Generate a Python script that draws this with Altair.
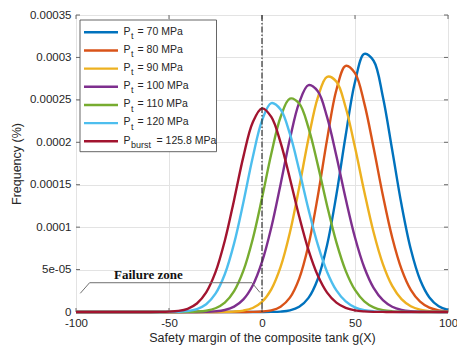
import altair as alt
import pandas as pd

# ---------------- data (frequency values in units of 1e-5) ----------------
X_GRID = list(range(-100, 105, 5))

SERIES_KEYS = ["70", "80", "90", "100", "110", "120", "burst"]
COLORS = ["#0072BD", "#D95319", "#EDB120", "#7E2F8E", "#77AC30", "#4DBEEE", "#A2142F"]

PT70 = [0] * 20 + [0, 0.01, 0.05, 0.19, 0.61, 1.66, 3.89, 7.90, 13.81, 20.83, 27.11,
                   30.42, 29.61, 25.34, 19.09, 12.66, 7.39, 3.80, 1.72, 0.68, 0.24]
PT80 = [0] * 19 + [0.01, 0.06, 0.20, 0.63, 1.69, 3.94, 7.89, 13.64, 20.34, 26.16, 29.01,
                   28.15, 24.59, 19.35, 13.73, 8.78, 5.06, 2.62, 1.23, 0.52, 0.20, 0.07]
PT90 = [0] * 16 + [0.01, 0.05, 0.17, 0.47, 1.19, 2.67, 5.31, 9.37, 14.69, 20.44, 25.27,
                   27.72, 27.15, 24.10, 19.41, 14.17, 9.39, 5.64, 3.07, 1.52, 0.68, 0.28,
                   0.10, 0.03, 0.01]
PT100 = [0] * 14 + [0.02, 0.08, 0.24, 0.63, 1.48, 3.12, 5.90, 9.96, 15.06, 20.38, 24.67,
                    26.73, 26.01, 22.96, 18.38, 13.34, 8.78, 5.24, 2.84, 1.39, 0.62, 0.25,
                    0.09, 0.03, 0.01, 0, 0]
PT110 = [0] * 12 + [0.01, 0.05, 0.15, 0.44, 1.10, 2.46, 4.87, 8.58, 13.43, 18.64, 22.98,
                    25.15, 24.57, 21.70, 17.34, 12.53, 8.20, 4.85, 2.60, 1.26, 0.55, 0.22,
                    0.08, 0.03, 0.01, 0, 0, 0, 0]
PT120 = [0] * 10 + [0.01, 0.03, 0.11, 0.35, 0.92, 2.16, 4.45, 8.09, 12.94, 18.21, 22.56,
                    24.61, 23.86, 20.98, 16.72, 12.09, 7.93, 4.72, 2.54, 1.25, 0.55, 0.22,
                    0.08, 0.03, 0.01, 0, 0, 0, 0, 0, 0]
PBURST = [0] * 9 + [0.01, 0.04, 0.13, 0.38, 1.00, 2.31, 4.69, 8.39, 13.21, 18.31, 22.34,
                    24.00, 22.99, 19.97, 15.74, 11.25, 7.29, 4.29, 2.28, 1.10, 0.48, 0.19,
                    0.07, 0.02, 0.01, 0, 0, 0, 0, 0, 0, 0]
SERIES_VALUES = [PT70, PT80, PT90, PT100, PT110, PT120, PBURST]

X_TICKS = [-100, -50, 0, 50, 100]
Y_TICKS = [0, 0.00005, 0.0001, 0.00015, 0.0002, 0.00025, 0.0003, 0.00035]
Y_TICK_LABELS = ["0", "5e-05", "0.0001", "0.00015", "0.0002", "0.00025", "0.0003", "0.00035"]

LEG_SUB = ["t", "t", "t", "t", "t", "t", "burst"]
LEG_REST = ["= 70 MPa", "= 80 MPa", "= 90 MPa", "= 100 MPa", "= 110 MPa", "= 120 MPa",
            "= 125.8 MPa"]

# failure-zone annotation (data units)
FZ_X = [-97.7, -92.7, -5.4, -1.1]
FZ_Y = [2.2e-5, 3.45e-5, 3.45e-5, 2.3e-5]
FZ_TEXT = "Failure zone"
FZ_TEXT_POS = (-61.1, 3.83e-5)

# ---------------- chart ----------------
W, H = 372, 297
TXT = "#262626"
FONT = "Liberation Sans"
TICK_LEN = 4

x_scale = alt.Scale(domain=[-100, 100], nice=False, zero=False)
y_scale = alt.Scale(domain=[0, 0.00035], nice=False)

label_expr = "".join(
    f"abs(datum.value - {v}) < 1e-9 ? '{lab}' : " for v, lab in zip(Y_TICKS, Y_TICK_LABELS)
) + "''"

x_axis = alt.Axis(values=X_TICKS, title="Safety margin of the composite tank g(X)",
                  labelExpr="'' + datum.value",
                  grid=True, ticks=False, domain=False, labelPadding=5, labelFlush=False,
                  titlePadding=3, labelFontSize=11.5, titleFontSize=12.5)
y_axis = alt.Axis(values=Y_TICKS, labelExpr=label_expr, title="Frequency (%)",
                  grid=True, ticks=False, domain=False, labelPadding=5, labelFlush=False,
                  titlePadding=6, labelFontSize=11.5, titleFontSize=12.5)


def X(field):
    return alt.X(field, scale=x_scale, axis=x_axis)


def Y(field):
    return alt.Y(field, scale=y_scale, axis=y_axis)


layers = []
for key, vals, col in zip(SERIES_KEYS, SERIES_VALUES, COLORS):
    df = pd.DataFrame({"x": X_GRID, "y": [v * 1e-5 for v in vals]})
    layers.append(
        alt.Chart(df).mark_line(color=col, strokeWidth=2.4, interpolate="catmull-rom")
        .encode(x=X("x:Q"), y=Y("y:Q"))
    )

# inward ticks on all four sides (MATLAB style)
xt_df = pd.DataFrame({"x": X_TICKS})
yt_df = pd.DataFrame({"y": Y_TICKS})
tick_style = dict(color="#6a6a6a", strokeWidth=1)
ticks = [
    alt.Chart(xt_df).mark_rule(**tick_style).encode(
        x=X("x:Q"), y=alt.value(0), y2=alt.value(TICK_LEN)),
    alt.Chart(xt_df).mark_rule(**tick_style).encode(
        x=X("x:Q"), y=alt.value(H), y2=alt.value(H - TICK_LEN)),
    alt.Chart(yt_df).mark_rule(**tick_style).encode(
        y=Y("y:Q"), x=alt.value(0), x2=alt.value(TICK_LEN)),
    alt.Chart(yt_df).mark_rule(**tick_style).encode(
        y=Y("y:Q"), x=alt.value(W), x2=alt.value(W - TICK_LEN)),
]

rule = alt.Chart(pd.DataFrame({"x": [0]})).mark_rule(
    color="#333333", strokeWidth=1.2, strokeDash=[6, 2, 1.5, 2]
).encode(x=X("x:Q"))

fz_df = pd.DataFrame({"x": FZ_X, "y": FZ_Y, "o": list(range(len(FZ_X)))})
fz_line = alt.Chart(fz_df).mark_line(color="#707070", strokeWidth=1).encode(
    x=X("x:Q"), y=Y("y:Q"), order="o:Q"
)
fz_text = alt.Chart(pd.DataFrame({"x": [FZ_TEXT_POS[0]], "y": [FZ_TEXT_POS[1]],
                                  "t": [FZ_TEXT]})).mark_text(
    font="Liberation Serif", fontWeight="bold", fontSize=13, color="#111111",
    align="center", baseline="alphabetic"
).encode(x=X("x:Q"), y=Y("y:Q"), text="t:N")

# ---------------- legend (pixel layout, relative to plot area) ----------------
LX0, LX1, LY0, LY1 = 4, 140.5, 5, 136.7
row_y = [17.3 + 18.17 * i for i in range(len(SERIES_KEYS))]
leg_df = pd.DataFrame({
    "key": SERIES_KEYS,
    "ly": row_y,
    "lb": [y + 2.2 for y in row_y],
    "sb": [y + 6.6 for y in row_y],
    "lx1": [8] * 7, "lx2": [42] * 7,
    "px": [47.5] * 7, "sx": [55] * 7,
    "rx": [61.5] * 6 + [80.5],
    "P": ["P"] * 7, "sub": LEG_SUB, "rest": LEG_REST,
})
box = alt.Chart(pd.DataFrame({"x": [LX0], "x2": [LX1], "y": [LY0], "y2": [LY1]})).mark_rect(
    fill="white", stroke="#555555", strokeWidth=0.9
).encode(x=alt.X("x:Q", scale=None, axis=None), x2="x2:Q",
         y=alt.Y("y:Q", scale=None, axis=None), y2="y2:Q")
leg_lines = alt.Chart(leg_df).mark_rule(strokeWidth=2.4).encode(
    x=alt.X("lx1:Q", scale=None, axis=None), x2="lx2:Q",
    y=alt.Y("ly:Q", scale=None, axis=None),
    color=alt.Color("key:N", scale=alt.Scale(domain=SERIES_KEYS, range=COLORS), legend=None),
)
common_txt = dict(font=FONT, color=TXT, align="left", baseline="alphabetic")
leg_p = alt.Chart(leg_df).mark_text(fontSize=10.5, **common_txt).encode(
    x=alt.X("px:Q", scale=None, axis=None), y=alt.Y("lb:Q", scale=None, axis=None), text="P:N")
leg_s = alt.Chart(leg_df).mark_text(fontSize=9, **common_txt).encode(
    x=alt.X("sx:Q", scale=None, axis=None), y=alt.Y("sb:Q", scale=None, axis=None), text="sub:N")
leg_r = alt.Chart(leg_df).mark_text(fontSize=10.5, **common_txt).encode(
    x=alt.X("rx:Q", scale=None, axis=None), y=alt.Y("lb:Q", scale=None, axis=None), text="rest:N")

chart = alt.layer(
    *ticks, *layers, rule, fz_line, fz_text, box, leg_lines, leg_p, leg_s, leg_r
).properties(
    width=W, height=H,
    padding={"left": 76, "right": 9, "top": 15, "bottom": 38},
    autosize=alt.AutoSizeParams(type="none"),
    background="white",
).configure_view(
    stroke="#6a6a6a", strokeWidth=1
).configure_axis(
    labelFont=FONT, titleFont=FONT, labelColor=TXT, titleColor=TXT,
    titleFontWeight="normal", gridColor="#e3e3e3", gridWidth=1,
)

chart.save("out.html", embed_options={"renderer": "svg", "actions": False})
